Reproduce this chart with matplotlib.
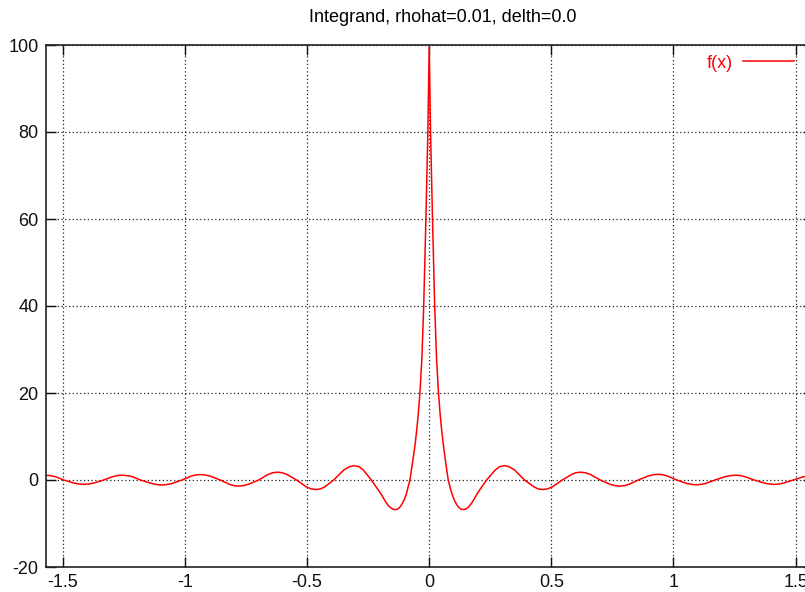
import matplotlib
matplotlib.use('Agg')
import matplotlib.pyplot as plt

plt.rcParams.update({'font.family': ['Liberation Sans', 'DejaVu Sans'], 'font.size': 13})

# curve, left half (x < 0)
X_LEFT = [-1.571, -1.551, -1.530, -1.496, -1.455, -1.434, -1.414, -1.394, -1.373, -1.333,
          -1.295, -1.277, -1.257, -1.237, -1.216, -1.182,
          -1.136, -1.114, -1.094, -1.074, -1.053, -1.012,
          -0.975, -0.957, -0.937, -0.917, -0.896, -0.855,
          -0.818, -0.800, -0.780, -0.760, -0.740, -0.698,
          -0.660, -0.641, -0.621, -0.601, -0.582, -0.543,
          -0.504, -0.484, -0.464, -0.444, -0.427, -0.391,
          -0.349, -0.327, -0.307, -0.287, -0.270, -0.237,
          -0.227, -0.217, -0.207, -0.196, -0.186, -0.176, -0.167, -0.158, -0.149, -0.140,
          -0.132, -0.125, -0.118, -0.110, -0.102, -0.094, -0.087, -0.079,
          -0.071, -0.063, -0.057, -0.051, -0.045, -0.038, -0.030, -0.0225, -0.0135, -0.0055]
Y_LEFT = [1.1, 1.0, 0.77, 0, -0.7, -0.92, -1.0, -0.92, -0.7, 0,
          0.78, 1.01, 1.1, 1.01, 0.78, 0,
          -0.81, -1.06, -1.15, -1.06, -0.81, 0,
          0.88, 1.15, 1.25, 1.15, 0.88, 0,
          -0.99, -1.29, -1.4, -1.29, -0.99, 0,
          1.27, 1.66, 1.8, 1.66, 1.27, 0,
          -1.55, -2.03, -2.2, -2.03, -1.55, 0,
          2.33, 3.05, 3.3, 3.05, 2.33, 0,
          -0.8, -1.6, -2.4, -3.3, -4.3, -5.2, -5.9, -6.35, -6.7, -6.8,
          -6.75, -6.5, -6.1, -5.4, -4.5, -3.3, -1.8, 0,
          3.0, 6.0, 8.5, 11.5, 15, 20, 28, 40, 60, 80]

# right half (x >= 0)
X_RIGHT = [0.0, 0.0055, 0.0135, 0.0225, 0.030, 0.038, 0.045, 0.051, 0.057, 0.063, 0.070,
           0.078, 0.086, 0.094, 0.102, 0.110, 0.118, 0.125, 0.132, 0.140,
           0.149, 0.158, 0.166, 0.175, 0.185, 0.195, 0.205, 0.215, 0.225,
           0.235, 0.271, 0.288, 0.307, 0.327, 0.349,
           0.390, 0.428, 0.445, 0.465, 0.485, 0.505,
           0.545, 0.583, 0.600, 0.620, 0.640, 0.660,
           0.700, 0.740, 0.760, 0.780, 0.800, 0.818,
           0.856, 0.896, 0.917, 0.937, 0.957, 0.975,
           1.013, 1.053, 1.074, 1.094, 1.114, 1.132,
           1.170, 1.212, 1.235, 1.255, 1.275, 1.292,
           1.330, 1.371, 1.392, 1.412, 1.432, 1.451,
           1.490, 1.530, 1.551, 1.571]
Y_RIGHT = [100, 80, 60, 40, 28, 20, 15, 11.5, 8.5, 6.0, 3.0,
           0, -1.8, -3.3, -4.5, -5.4, -6.1, -6.5, -6.75, -6.8,
           -6.7, -6.35, -5.9, -5.2, -4.3, -3.3, -2.4, -1.6, -0.8,
           0, 2.33, 3.05, 3.3, 3.05, 2.33,
           0, -1.55, -2.03, -2.2, -2.03, -1.55,
           0, 1.27, 1.66, 1.8, 1.66, 1.27,
           0, -0.99, -1.29, -1.4, -1.29, -0.99,
           0, 0.92, 1.2, 1.3, 1.2, 0.92,
           0, -0.78, -1.01, -1.1, -1.01, -0.78,
           0, 0.78, 1.01, 1.1, 1.01, 0.78,
           0, -0.7, -0.92, -1.0, -0.92, -0.7,
           0, 0.7, 0.92, 1.0]

X_TICKS = [-1.5, -1, -0.5, 0, 0.5, 1, 1.5]
X_LABELS = ['-1.5', '-1', '-0.5', '0', '0.5', '1', '1.5']
Y_TICKS = [-20, 0, 20, 40, 60, 80, 100]
Y_LABELS = ['-20', '0', '20', '40', '60', '80', '100']
X_RANGE = (-1.5708, 1.5708)
Y_RANGE = (-20, 100)
TITLE = 'Integrand, rhohat=0.01, delth=0.0'

W, H = 805, 592
fig = plt.figure(figsize=(W / 100, H / 100), dpi=100)
# right border of the original plot lies past the image edge
ax = fig.add_axes([45.5 / W, 25 / H, (812.9 - 45.5) / W, 522 / H])

ax.plot(X_LEFT + X_RIGHT, Y_LEFT + Y_RIGHT, color='#ff0000', lw=1.1, label='f(x)')

ax.set_xlim(*X_RANGE)
ax.set_ylim(*Y_RANGE)
ax.set_xticks(X_TICKS)
ax.set_xticklabels(X_LABELS)
ax.set_yticks(Y_TICKS)
ax.set_yticklabels(Y_LABELS)
ax.tick_params(direction='in', top=True, right=True, length=7, width=1, pad=5, colors='#111111')
ax.grid(True, color='#222222', linestyle=(0, (1, 2)), linewidth=0.9)
for s in ax.spines.values():
    s.set_linewidth(1.2)
    s.set_color('#222222')

fig.text(443 / W, 1 - 18 / H, TITLE, ha='center', va='center', fontsize=13)

ax.legend(loc='center right', bbox_to_anchor=(794 / W, 1 - 63 / H), bbox_transform=fig.transFigure,
          frameon=False, markerfirst=False, labelcolor='#ff0000', handlelength=2.8,
          handletextpad=0.6, borderpad=0, borderaxespad=0, fontsize=13)

fig.savefig('out.png', dpi=100)
